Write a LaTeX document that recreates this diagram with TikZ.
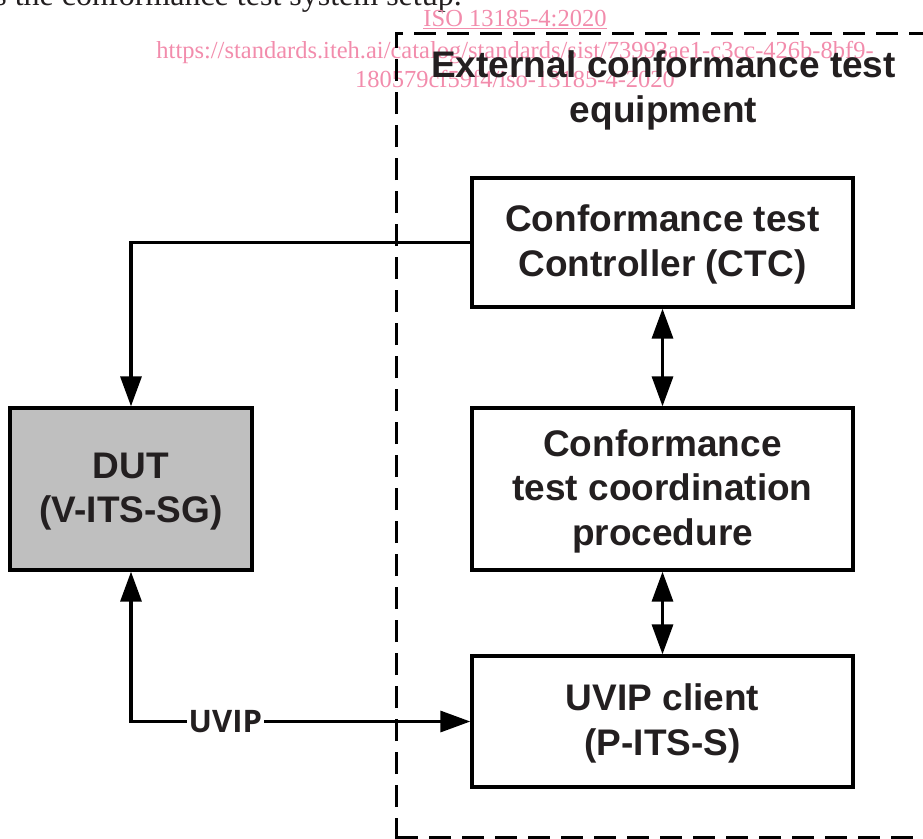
\documentclass[tikz,border=0pt]{standalone}
\usepackage{fontspec}
\setmainfont{Liberation Serif}
\newfontfamily\arialf{Liberation Sans}
\newfontfamily\opensf{Open Sans}
\usetikzlibrary{arrows.meta}
\definecolor{ink}{HTML}{231F20}
\definecolor{wm}{RGB}{242,140,172}
\definecolor{dutgray}{HTML}{BFBFBF}
\newcommand{\topstrut}{\rule{0pt}{31pt}}
\begin{document}
\begin{tikzpicture}[x=1pt,y=-1pt,
  >={Triangle[length=30pt,width=21pt]},
  box/.style={draw=black, line width=3.3pt, minimum width=381pt, align=center,
    inner sep=0pt, text=ink, font=\arialf\bfseries\fontsize{37pt}{44.5pt}\selectfont},
  conn/.style={line width=3.3pt, draw=black},
  wmtext/.style={text=wm, inner sep=0pt, font=\fontsize{24.5pt}{29pt}\selectfont},
  frame/.style={line width=3pt, dash pattern=on 22pt off 11pt}
]
\useasboundingbox (0,0) rectangle (923,838);

% cut-off body text and watermark
\node[anchor=base east, inner sep=0pt, text=ink, font=\fontsize{32pt}{36pt}\selectfont] (bodytxt) at (462,5) {s the conformance test system setup.};
\node[wmtext, anchor=base] (wm1) at (515,26) {\underline{ISO 13185-4:2020}};
\node[wmtext, anchor=base] (wm2) at (515,58) {https://standards.iteh.ai/catalog/standards/sist/73993ae1-c3cc-426b-8bf9-};
\node[wmtext, anchor=base] (wm3) at (515,87) {180579cf59f4/iso-13185-4-2020};

% dashed frame of the external equipment
\draw[frame] (396,840) -- (396,33) -- (930,33);
\draw[frame] (396,837) -- (930,837);

\node[align=center, inner sep=0pt, text=ink, font=\arialf\bfseries\fontsize{37pt}{45pt}\selectfont] (title) at (663.5,90) {External conformance test\\equipment};

% boxes
\node[box, minimum height=129pt] (ctc) at (662.5,242.5) {\topstrut Conformance test\\Controller (CTC)};
\node[box, minimum height=162pt] (coord) at (662.5,489) {\topstrut Conformance\\test coordination\\procedure};
\node[box, minimum height=131pt] (uvip) at (662.5,721.5) {\topstrut UVIP client\\(P-ITS-S)};
\node[box, fill=dutgray, minimum width=242pt, minimum height=162pt] (dut) at (131,489) {\topstrut DUT\\(V-ITS-SG)};

% connectors
\draw[conn,->] (ctc.west) -| (dut.north);
\draw[conn,<->] (ctc.south) -- (coord.north);
\draw[conn,<->] (coord.south) -- (uvip.north);
\draw[conn,<->] (dut.south) |- (uvip.west)
  node[pos=0.639, fill=white, inner xsep=2pt, inner ysep=0pt, text=ink,
       font=\opensf\bfseries\fontsize{31pt}{33pt}\selectfont] (uviplbl) {UVIP};
\end{tikzpicture}
\end{document}
